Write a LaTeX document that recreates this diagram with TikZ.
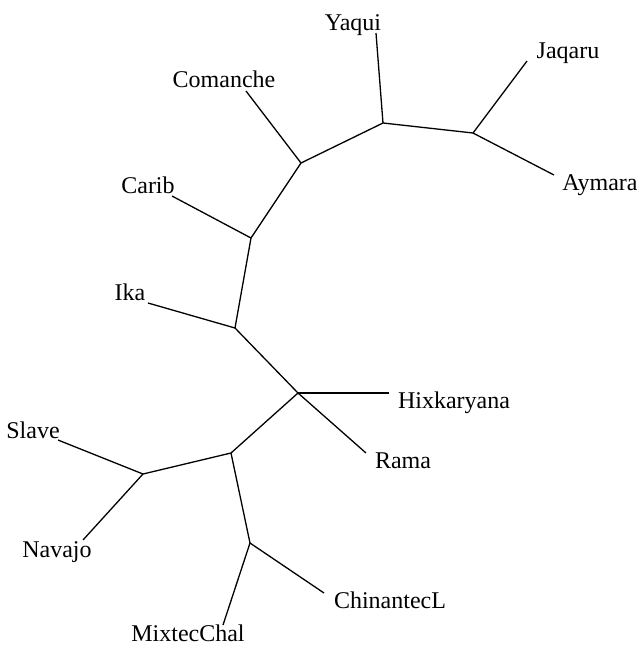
\documentclass[tikz,border=0pt]{standalone}
\usepackage{fontspec}
\setmainfont{Liberation Serif}
\begin{document}
\begin{tikzpicture}[x=0.5pt,y=-0.5pt,
  branch/.style={draw=black,line width=0.65pt},
  taxon/.style={inner sep=0pt,anchor=base,font=\fontsize{12}{14}\selectfont}]
\useasboundingbox (0,0) rectangle (640,645);
% internal vertices of the unrooted tree
\coordinate (j1) at (383,123);
\coordinate (j2) at (473,133);
\coordinate (j3) at (301,163);
\coordinate (j4) at (251,238);
\coordinate (j5) at (235,328);
\coordinate (j6) at (298,393);
\coordinate (j7) at (231,453);
\coordinate (j8) at (143,474);
\coordinate (j9) at (250,543);
% tips of the leaf branches
\coordinate (tYaqui) at (376,33);
\coordinate (tJaqaru) at (527,61);
\coordinate (tAymara) at (554,175);
\coordinate (tComanche) at (246,91);
\coordinate (tCarib) at (172,196);
\coordinate (tIka) at (148,303);
\coordinate (tHix) at (389,393);
\coordinate (tRama) at (366,453);
\coordinate (tSlave) at (58,440);
\coordinate (tNavajo) at (83,540);
\coordinate (tChin) at (324,593);
\coordinate (tMixtec) at (223,625);
% labels
\node[taxon] (lYaqui) at (353,30) {Yaqui};
\node[taxon] (lJaqaru) at (568,58) {Jaqaru};
\node[taxon] (lAymara) at (600,190) {Aymara};
\node[taxon] (lComanche) at (224,87) {Comanche};
\node[taxon] (lCarib) at (148,193) {Carib};
\node[taxon] (lIka) at (130,300) {Ika};
\node[taxon] (lHix) at (454,408) {Hixkaryana};
\node[taxon] (lRama) at (403,468) {Rama};
\node[taxon] (lSlave) at (33,438) {Slave};
\node[taxon] (lNavajo) at (57,557) {Navajo};
\node[taxon] (lChin) at (390,608) {ChinantecL};
\node[taxon] (lMixtec) at (188,641) {MixtecChal};
% internal branches
\draw[branch] (j2) -- (j1) -- (j3) -- (j4) -- (j5) -- (j6) -- (j7) -- (j8);
\draw[branch] (j7) -- (j9);
% leaf branches
\draw[branch] (j1) -- (tYaqui);
\draw[branch] (j2) -- (tJaqaru);
\draw[branch] (j2) -- (tAymara);
\draw[branch] (j3) -- (tComanche);
\draw[branch] (j4) -- (tCarib);
\draw[branch] (j5) -- (tIka);
\draw[branch] (j6) -- (tHix);
\draw[branch] (j6) -- (tRama);
\draw[branch] (j8) -- (tSlave);
\draw[branch] (j8) -- (tNavajo);
\draw[branch] (j9) -- (tChin);
\draw[branch] (j9) -- (tMixtec);
\end{tikzpicture}
\end{document}
